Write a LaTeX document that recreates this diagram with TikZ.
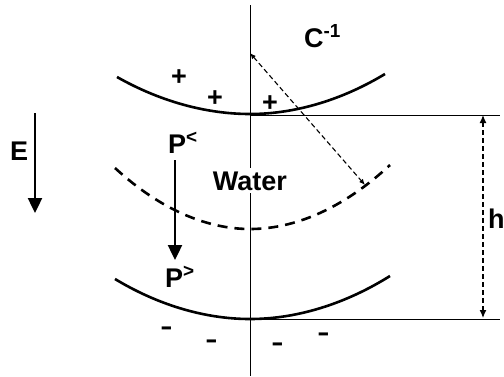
\documentclass[tikz,border=0pt]{standalone}
\usepackage{fontspec}
\setmainfont{Liberation Sans}
\usetikzlibrary{arrows.meta}

\tikzset{
  lbl/.style={font=\fontsize{27}{30}\selectfont\bfseries, inner sep=0pt},
  sign/.style={font=\fontsize{27}{30}\selectfont\bfseries, inner sep=0pt},
  minussign/.style={font=\fontsize{38}{42}\selectfont, inner sep=0pt, anchor=base},
  surface/.style={line width=2.6pt},
  guide/.style={line width=1pt},
  fieldarrow/.style={line width=2.4pt, -{Triangle[length=15pt,width=14pt]}},
  measure/.style={line width=1.2pt, dash pattern=on 5pt off 3pt,
    {Latex[length=8pt,width=7pt]}-{Latex[length=8pt,width=7pt]}},
  radius/.style={line width=1.1pt, dash pattern=on 5pt off 3pt,
    {Latex[length=6pt,width=5pt]}-{Latex[length=6pt,width=5pt]}},
}

\begin{document}
\begin{tikzpicture}[x=1pt,y=-1pt]
  \useasboundingbox (0,0) rectangle (504,376);

  % symmetry axis
  \coordinate (axtop) at (250,5);
  \coordinate (axbot) at (250,376);
  \draw[guide] (axtop) -- (axbot);

  % surfaces: charged top, water film, charged bottom
  \coordinate (topv) at (250,114);
  \coordinate (botv) at (250,319);
  \draw[surface] (117,77) parabola bend (topv) (385,74);
  \draw[surface, dash pattern=on 10pt off 7pt] (115,168) parabola bend (250,229) (390,165);
  \draw[surface] (115,279) parabola bend (botv) (390,276);

  \node[lbl, fill=white, inner sep=3pt, anchor=base] (water) at (250,190) {Water};

  % curvature radius
  \coordinate (ctr) at (250,53);
  \coordinate (rim) at (365,185);
  \draw[radius] (ctr) -- (rim);
  \node[lbl, anchor=base west] (curv) at (304,47) {C\textsuperscript{-1}};

  % thickness h
  \coordinate (hup) at (500,115);
  \coordinate (hdn) at (500,319);
  \draw[guide] (topv |- hup) -- (hup);
  \draw[guide] (botv) -- (hdn);
  \coordinate (hA) at (483,115);
  \coordinate (hB) at (483,318);
  \draw[measure] (hA) -- (hB);
  \node[lbl, anchor=base west] (hlbl) at (488,228) {h};

  % field
  \node[lbl, anchor=base west] (field) at (10,160) {E};
  \coordinate (eup) at (35,113);
  \coordinate (edn) at (35,213);
  \draw[fieldarrow] (eup) -- (edn);

  % pressures
  \node[lbl, anchor=base west] (plow) at (168,153) {P\textsuperscript{<}};
  \node[lbl, anchor=base west] (phigh) at (165,287) {P\textsuperscript{>}};
  \coordinate (pfrom) at (175,160);
  \coordinate (pto) at (175,260);
  \draw[fieldarrow] (pfrom) -- (pto);

  % charges
  \node[sign] (plus1) at (179,77.5) {+};
  \node[sign] (plus2) at (215,98.5) {+};
  \node[sign] (plus3) at (270,103.5) {+};
  \node[minussign] (minus1) at (167,338) {-};
  \node[minussign] (minus2) at (212,351) {-};
  \node[minussign] (minus3) at (278,354) {-};
  \node[minussign] (minus4) at (324,344) {-};
\end{tikzpicture}
\end{document}
